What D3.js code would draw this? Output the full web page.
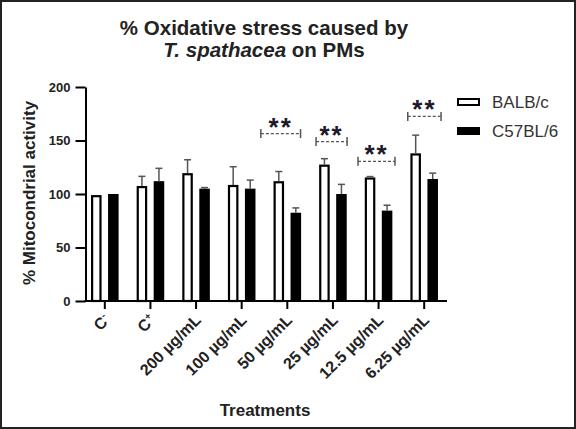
<!DOCTYPE html>
<html><head><meta charset="utf-8">
<script src="https://cdn.jsdelivr.net/npm/d3@7"></script>
<style>
html,body{margin:0;padding:0;background:#fff;}
svg{display:block;font-family:"Liberation Sans",Arial,sans-serif;}
</style></head>
<body>
<svg id="chart" width="576" height="429"></svg>
<script>
// ---- data ----
const categories = ["C-", "C+", "200 µg/mL", "100 µg/mL", "50 µg/mL", "25 µg/mL", "12.5 µg/mL", "6.25 µg/mL"];
const seriesNames = ["BALB/c", "C57BL/6"];
const balbValues = [99, 107.5, 119.5, 108.5, 112, 127.5, 115.5, 138];
const balbErrors = [0, 9, 12.5, 17, 9, 5.5, 0.8, 17];
const c57Values = [100, 112, 105, 105, 82.5, 100, 84.5, 114];
const c57Errors = [0, 12, 1, 8, 4.5, 9, 5, 5.5];
const yTicks = [0, 50, 100, 150, 200];
const sigLabels = ["**", "**", "**", "**"];
const sigLevels = [156.5, 149, 130.5, 172.5];      // bracket heights (y units)
const sigFrom = [3.92, 5.13, 6.05, 7.14];           // bracket start (category index units)
const sigTo = [4.79, 5.81, 6.86, 7.87];             // bracket end (category index units)

// ---- layout ----
const svg = d3.select("#chart");
const W = 576, H = 429;
const plotL = 82, plotR = 447, plotT = 87, plotB = 301, axisX = 85.5;
const font = '"Liberation Sans", Arial, sans-serif';

// frame
svg.append("rect").attr("x", 1).attr("y", 1).attr("width", W - 2).attr("height", H - 2)
  .attr("fill", "#fff").attr("stroke", "#222").attr("stroke-width", 2);

const x0 = d3.scaleBand().domain(categories).range([plotL, plotR]).padding(0);
const x1 = d3.scaleBand().domain(seriesNames).range([0, x0.bandwidth()])
  .paddingInner(0.38).paddingOuter(0.53);
const xi = d3.scaleLinear().domain([0, categories.length]).range([plotL, plotR]);
const y = d3.scaleLinear().domain([0, 200]).range([plotB, plotT]);

const seriesData = [
  {name: seriesNames[0], values: balbValues, errors: balbErrors, fill: "#fff"},
  {name: seriesNames[1], values: c57Values, errors: c57Errors, fill: "#000"}
];

// title
const title = svg.append("text").attr("text-anchor", "middle").attr("font-weight", "bold")
  .attr("font-size", 20.5).attr("fill", "#222");
title.append("tspan").attr("x", 264).attr("y", 35).text("% Oxidative stress caused by");
const t2 = title.append("tspan").attr("x", 264).attr("y", 57);
t2.append("tspan").attr("font-style", "italic").text("T. spathacea");
t2.append("tspan").text(" on PMs");

// bars
const sw = 2.2;
seriesData.forEach(s => {
  const g = svg.append("g");
  categories.forEach((c, i) => {
    const bx = x0(c) + x1(s.name);
    const bw = x1.bandwidth();
    const v = s.values[i];
    if (s.fill === "#fff") {
      g.append("rect").attr("x", bx + sw / 2).attr("y", y(v) + sw / 2)
        .attr("width", bw - sw).attr("height", y(0) - y(v) - sw / 2)
        .attr("fill", "#fff").attr("stroke", "#000").attr("stroke-width", sw);
    } else {
      g.append("rect").attr("x", bx).attr("y", y(v))
        .attr("width", bw).attr("height", y(0) - y(v)).attr("fill", "#000");
    }
    const e = s.errors[i];
    if (e > 0) {
      const cx = bx + bw / 2;
      g.append("line").attr("x1", cx).attr("x2", cx).attr("y1", y(v)).attr("y2", y(v + e))
        .attr("stroke", "#555").attr("stroke-width", 1.5);
      g.append("line").attr("x1", cx - 3.5).attr("x2", cx + 3.5).attr("y1", y(v + e)).attr("y2", y(v + e))
        .attr("stroke", "#555").attr("stroke-width", 1.5);
    }
  });
});

// y axis
const yAxis = svg.append("g").attr("transform", `translate(${axisX},0)`)
  .call(d3.axisLeft(y).tickValues(yTicks).tickSize(10).tickPadding(5).tickSizeOuter(0));
yAxis.select(".domain").attr("stroke", "#000").attr("stroke-width", 2);
yAxis.selectAll(".tick line").attr("stroke", "#000").attr("stroke-width", 2);
yAxis.selectAll(".tick text").attr("font-family", font).attr("font-size", 13)
  .attr("font-weight", "bold").attr("fill", "#222");

// x axis
const xAxis = svg.append("g").attr("transform", `translate(0,${plotB})`)
  .call(d3.axisBottom(x0).tickSize(8).tickSizeOuter(0).tickFormat(() => ""));
xAxis.select(".domain").attr("d", `M${axisX - 1},0H${plotR}`).attr("stroke", "#000").attr("stroke-width", 2);
xAxis.selectAll(".tick line").attr("stroke", "#000").attr("stroke-width", 2);
xAxis.selectAll(".tick").each(function(d) {
  const t = d3.select(this).append("text")
    .attr("transform", "translate(2,16) rotate(-45)")
    .attr("text-anchor", "end").attr("dy", "0.35em")
    .attr("font-family", font).attr("font-size", 16).attr("font-weight", "bold").attr("fill", "#222");
  if (d === "C-" || d === "C+") {
    t.append("tspan").text("C");
    t.append("tspan").attr("font-size", 10).attr("dy", "-0.6em").text(d === "C-" ? "-" : "+");
  } else {
    t.text(d);
  }
});

// axis titles
svg.append("text").attr("x", 265).attr("y", 416).attr("text-anchor", "middle")
  .attr("font-size", 17).attr("font-weight", "bold").attr("fill", "#222").text("Treatments");
svg.append("text").attr("transform", "translate(35,193) rotate(-90)").attr("text-anchor", "middle")
  .attr("font-size", 17).attr("font-weight", "bold").attr("fill", "#222").text("% Mitocondrial activity");

// significance brackets
sigLabels.forEach((lab, k) => {
  const xa = xi(sigFrom[k]), xb = xi(sigTo[k]), yy = y(sigLevels[k]);
  const g = svg.append("g");
  g.append("line").attr("x1", xa).attr("x2", xb).attr("y1", yy).attr("y2", yy)
    .attr("stroke", "#555").attr("stroke-width", 1.2).attr("stroke-dasharray", "3,2");
  [xa, xb].forEach(xx => g.append("line").attr("x1", xx).attr("x2", xx)
    .attr("y1", yy - 4.5).attr("y2", yy + 4.5).attr("stroke", "#555").attr("stroke-width", 1.5));
  g.append("text").attr("x", (xa + xb) / 2).attr("y", yy + 2).attr("text-anchor", "middle")
    .attr("font-size", 26).attr("font-weight", "bold").attr("fill", "#1a1a2a")
    .attr("letter-spacing", 2).text(lab);
});

// legend
const leg = svg.append("g");
seriesData.forEach((s, i) => {
  const ly = 102 + i * 29;
  if (s.fill === "#fff") {
    leg.append("rect").attr("x", 457 + 1).attr("y", ly - 4 + 1).attr("width", 23 - 2).attr("height", 8 - 2)
      .attr("fill", "#fff").attr("stroke", "#000").attr("stroke-width", 2);
  } else {
    leg.append("rect").attr("x", 457).attr("y", ly - 4).attr("width", 23).attr("height", 8).attr("fill", "#000");
  }
  leg.append("text").attr("x", 492).attr("y", ly).attr("dy", "0.35em")
    .attr("font-size", 17).attr("fill", "#333").text(s.name);
});
</script>
</body></html>
